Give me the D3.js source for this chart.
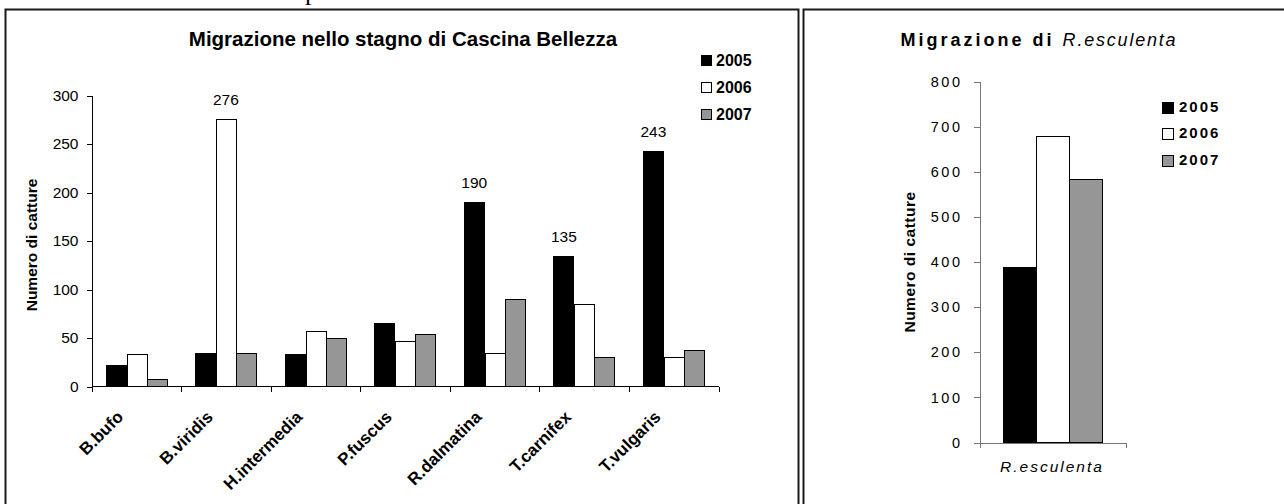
<!DOCTYPE html>
<meta charset="utf-8">
<style>
body { margin: 0; background: #fff; }
svg text { font-family: "Liberation Sans", Arial, sans-serif; fill: #000; }
.panel { fill: none; stroke: #1a1a1a; stroke-width: 2px; }
.axis path, .axis line { stroke: #000; shape-rendering: crispEdges; }
.axis2 path, .axis2 line { stroke: #777; shape-rendering: crispEdges; }
.bar { stroke: #000; stroke-width: 1px; shape-rendering: crispEdges; }
</style>
<svg id="chart" width="1284" height="504"></svg>
<script src="https://d3js.org/d3.v7.min.js"></script>
<script>

// data
var species = ["B.bufo", "B.viridis", "H.intermedia", "P.fuscus", "R.dalmatina", "T.carnifex", "T.vulgaris"];
var years = ["2005", "2006", "2007"];
var v2005 = [22, 35, 34, 65, 190, 135, 243];
var v2006 = [34, 276, 57, 47, 35, 85, 30];
var v2007 = [8, 35, 50, 54, 90, 30, 38];
var labelled = [[1, "2006"], [4, "2005"], [5, "2005"], [6, "2005"]];
var yTicks1 = [0, 50, 100, 150, 200, 250, 300];

var escCategory = ["R.esculenta"];
var escValues = [390, 680, 583];
var yTicks2 = [0, 100, 200, 300, 400, 500, 600, 700, 800];

var fills = { "2005": "#000000", "2006": "#ffffff", "2007": "#969696" };

var svg = d3.select("#chart");

// stray text from the page above
svg.append("text").attr("x", 305).attr("y", 0)
    .style("font-family", "'Liberation Serif', serif").style("font-size", "26px")
    .text("p");

// panel frames
svg.append("rect").attr("class", "panel").attr("x", 5.5).attr("y", 9.5).attr("width", 793).attr("height", 520);
svg.append("rect").attr("class", "panel").attr("x", 803.5).attr("y", 9.5).attr("width", 500).attr("height", 520);

// ---------- left chart ----------
var table1 = species.map(function(s, i) {
  return { name: s, "2005": v2005[i], "2006": v2006[i], "2007": v2007[i] };
});

var x0 = d3.scaleBand().domain(species).range([91.5, 718.5]);
var x1 = d3.scaleBand().domain(years).range([0, x0.bandwidth()]).paddingOuter(0.71);
var y1 = d3.scaleLinear().domain([0, 300]).range([386.5, 95.5]);

var g1 = svg.append("g");

g1.selectAll("g.grp")
  .data(table1)
  .enter().append("g")
    .attr("class", "grp")
    .attr("transform", function(d) { return "translate(" + x0(d.name) + ",0)"; })
  .selectAll("rect")
  .data(function(d) { return years.map(function(k) { return { key: k, value: d[k] }; }); })
  .enter().append("rect")
    .attr("class", "bar")
    .attr("x", function(d) { return Math.round(x1(d.key)) + 0.5; })
    .attr("width", function(d) { return Math.round(x1.bandwidth()); })
    .attr("y", function(d) { return Math.round(y1(d.value)) + 0.5; })
    .attr("height", function(d) { return y1(0) - Math.round(y1(d.value)) - 0.5; })
    .style("fill", function(d) { return fills[d.key]; });

// value labels
g1.selectAll("text.val")
  .data(labelled)
  .enter().append("text")
    .attr("class", "val")
    .attr("x", function(d) { return x0(species[d[0]]) + x1(d[1]) + x1.bandwidth() / 2; })
    .attr("y", function(d) {
      var v = d[1] === "2005" ? v2005[d[0]] : v2006[d[0]];
      return y1(v) - 14;
    })
    .attr("text-anchor", "middle")
    .style("font-size", "15.5px")
    .text(function(d) { return d[1] === "2005" ? v2005[d[0]] : v2006[d[0]]; });

var yAxis1 = g1.append("g").attr("class", "axis")
    .attr("transform", "translate(91.5,0)")
    .call(d3.axisLeft(y1).tickValues(yTicks1).tickSize(5).tickSizeOuter(0).tickPadding(8));
yAxis1.selectAll("text").style("font-size", "15.5px").style("font-family", "'Liberation Sans', Arial, sans-serif");

// x axis with ticks at band edges
var xAxis1 = g1.append("g").attr("class", "axis");
xAxis1.append("line").attr("x1", 91.5).attr("x2", 718.5).attr("y1", 386.5).attr("y2", 386.5);
xAxis1.selectAll("line.tk")
  .data(species.concat(["end"]))
  .enter().append("line")
    .attr("class", "tk")
    .attr("x1", function(d, i) { return Math.round(i < species.length ? x0(d) : x0.range()[1]) + 0.5; })
    .attr("x2", function(d, i) { return Math.round(i < species.length ? x0(d) : x0.range()[1]) + 0.5; })
    .attr("y1", 386.5).attr("y2", 392);

xAxis1.selectAll("text")
  .data(species)
  .enter().append("text")
    .attr("transform", function(d) {
      return "translate(" + (x0(d) + x0.bandwidth() / 2 - 12) + ",418) rotate(-45)";
    })
    .attr("text-anchor", "end")
    .style("font-size", "17px").style("font-weight", "bold")
    .text(function(d) { return d; });

// title
g1.append("text").attr("x", 403).attr("y", 46).attr("text-anchor", "middle")
    .style("font-size", "20.5px").style("font-weight", "bold")
    .text("Migrazione nello stagno di Cascina Bellezza");

// y title
g1.append("text").attr("transform", "translate(37,245) rotate(-90)")
    .attr("text-anchor", "middle")
    .style("font-size", "15.5px").style("font-weight", "bold")
    .text("Numero di catture");

// legend
var leg1 = g1.selectAll("g.leg").data(years).enter().append("g")
    .attr("transform", function(d, i) { return "translate(701," + [60, 87, 114][i] + ")"; });
leg1.append("rect").attr("x", 0.5).attr("y", -4.5).attr("width", 10).attr("height", 10)
    .attr("stroke", "#000").attr("fill", function(d) { return fills[d]; });
leg1.append("text").attr("x", 15).attr("y", 6)
    .style("font-size", "16px").style("font-weight", "bold")
    .text(function(d) { return d; });

// ---------- right chart ----------
var x2 = d3.scaleBand().domain(escCategory).range([979.5, 1125.5]);
var x3 = d3.scaleBand().domain(years).range([0, x2.bandwidth()]).paddingOuter(0.71);
var y2 = d3.scaleLinear().domain([0, 800]).range([442.5, 81.5]);

var g2 = svg.append("g");

g2.selectAll("rect.bar")
  .data(years.map(function(k, i) { return { key: k, value: escValues[i] }; }))
  .enter().append("rect")
    .attr("class", "bar")
    .attr("x", function(d) { return Math.round(x2(escCategory[0]) + x3(d.key)) + 0.5; })
    .attr("width", function(d) { return Math.round(x3.bandwidth()); })
    .attr("y", function(d) { return Math.round(y2(d.value)) + 0.5; })
    .attr("height", function(d) { return y2(0) - Math.round(y2(d.value)) - 0.5; })
    .style("fill", function(d) { return fills[d.key]; });

var yAxis2 = g2.append("g").attr("class", "axis2")
    .attr("transform", "translate(979.5,0)")
    .call(d3.axisLeft(y2).tickValues(yTicks2).tickSize(6).tickSizeOuter(0).tickPadding(11));
yAxis2.selectAll("text").style("font-size", "14.5px").style("letter-spacing", "2.5px")
    .style("font-family", "'Liberation Sans', Arial, sans-serif");

var xAxis2 = g2.append("g").attr("class", "axis2")
    .attr("transform", "translate(0,442.5)")
    .call(d3.axisBottom(x2).tickSize(0).tickSizeOuter(5).tickFormat(""));

g2.append("text").attr("x", 1052).attr("y", 472).attr("text-anchor", "middle")
    .style("font-size", "15.5px").style("font-style", "italic").style("letter-spacing", "2px")
    .text(escCategory[0]);

var t2 = g2.append("text").attr("x", 1039).attr("y", 46).attr("text-anchor", "middle")
    .style("font-size", "18px");
t2.append("tspan").style("font-weight", "bold").style("letter-spacing", "3px").text("Migrazione di ");
t2.append("tspan").style("font-style", "italic").style("letter-spacing", "1.8px").text("R.esculenta");

g2.append("text").attr("transform", "translate(915,262) rotate(-90)")
    .attr("text-anchor", "middle")
    .style("font-size", "15.5px").style("font-weight", "bold").style("letter-spacing", "0.5px")
    .text("Numero di catture");

var leg2 = g2.selectAll("g.leg").data(years).enter().append("g")
    .attr("transform", function(d, i) { return "translate(1162," + [108, 134, 161][i] + ")"; });
leg2.append("rect").attr("x", 0.5).attr("y", -5.5).attr("width", 11).attr("height", 11)
    .attr("stroke", "#000").attr("fill", function(d) { return fills[d]; });
leg2.append("text").attr("x", 17).attr("y", 4)
    .style("font-size", "15px").style("font-weight", "bold").style("letter-spacing", "2px")
    .text(function(d) { return d; });

</script>
